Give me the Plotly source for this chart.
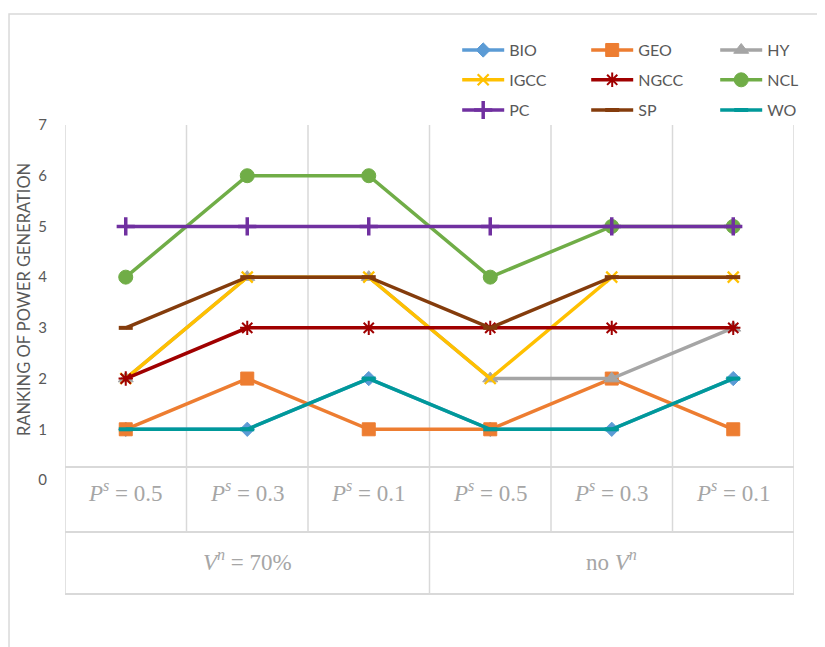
import plotly.graph_objects as go

# category positions and two-level axis labels
categories = [0, 1, 2, 3, 4, 5]
sub_labels = ["<i>P</i><sup><i>s</i></sup> = 0.5", "<i>P</i><sup><i>s</i></sup> = 0.3",
              "<i>P</i><sup><i>s</i></sup> = 0.1", "<i>P</i><sup><i>s</i></sup> = 0.5",
              "<i>P</i><sup><i>s</i></sup> = 0.3", "<i>P</i><sup><i>s</i></sup> = 0.1"]
group_labels = ["<i>V</i><sup><i>n</i></sup> = 70%", "no <i>V</i><sup><i>n</i></sup>"]
group_centers = [1, 4]
group_edges = [-0.5, 2.5, 5.5]

# ranking of each power generation technology
bio = [1, 1, 2, 1, 1, 2]
geo = [1, 2, 1, 1, 2, 1]
hy = [2, 4, 4, 2, 2, 3]
igcc = [2, 4, 4, 2, 4, 4]
ngcc = [2, 3, 3, 3, 3, 3]
ncl = [4, 6, 6, 4, 5, 5]
pc = [5, 5, 5, 5, 5, 5]
sp = [3, 4, 4, 3, 4, 4]
wo = [1, 1, 2, 1, 1, 2]

# name, values, colour, marker symbol, marker size, marker outline width, legend row
series = [
    ("BIO", bio, "#5B9BD5", "diamond", 11, 1, "legend"),
    ("GEO", geo, "#ED7D31", "square", 13, 1, "legend"),
    ("HY", hy, "#A5A5A5", "triangle-up", 13, 1, "legend"),
    ("IGCC", igcc, "#FFC000", "x-thin-open", 11, 2.2, "legend2"),
    ("NGCC", ngcc, "#A00000", "asterisk-open", 12, 2, "legend2"),
    ("NCL", ncl, "#70AD47", "circle", 14, 1, "legend2"),
    ("PC", pc, "#7030A0", "cross-thin-open", 13, 3.5, "legend3"),
    ("SP", sp, "#843C0C", "line-ew-open", 10, 4, "legend3"),
    ("WO", wo, "#00999A", "line-ew-open", 10, 4, "legend3"),
]

grid_col = "#D9D9D9"
text_col = "#595959"
label_col = "#A6A6A6"

fig = go.Figure()
for name, vals, col, sym, size, lw, leg in series:
    fig.add_trace(go.Scatter(
        x=categories, y=vals, name=name, mode="lines+markers",
        line=dict(color=col, width=3.5),
        marker=dict(symbol=sym, size=size, color=col, line=dict(color=col, width=lw)),
        legend=leg,
    ))

# vertical gridlines continuing into the label table
shapes = []
for b in [-0.5, 0.5, 1.5, 2.5, 3.5, 4.5, 5.5]:
    shapes.append(dict(type="line", xref="x", yref="paper", x0=b, x1=b, y0=1.0, y1=-0.1465,
                       line=dict(color=grid_col, width=1.5), layer="below"))
for b in group_edges:
    shapes.append(dict(type="line", xref="x", yref="paper", x0=b, x1=b, y0=-0.1465, y1=-0.3211,
                       line=dict(color=grid_col, width=1.5)))
for yy in [0.0366, -0.1465, -0.3211]:
    shapes.append(dict(type="line", xref="x", yref="paper", x0=-0.5, x1=5.5, y0=yy, y1=yy,
                       line=dict(color=grid_col, width=2)))
# outer chart frame
shapes.append(dict(type="rect", xref="paper", yref="paper", x0=-0.0768, x1=1.2, y0=-0.6, y1=1.3127,
                   line=dict(color=grid_col, width=1.5), layer="below"))

annotations = []
for c, lab in zip(categories, sub_labels):
    annotations.append(dict(x=c, y=-0.078, xref="x", yref="paper", text=lab, showarrow=False,
                            font=dict(family="Liberation Serif", size=23, color=label_col)))
for c, lab in zip(group_centers, group_labels):
    annotations.append(dict(x=c, y=-0.272, xref="x", yref="paper", text=lab, showarrow=False,
                            font=dict(family="Liberation Serif", size=23, color=label_col)))
annotations.append(dict(x=-0.0562, y=0.507, xref="paper", yref="paper", xanchor="center",
                        yanchor="middle", text="RANKING OF POWER GENERATION", textangle=-90,
                        showarrow=False, font=dict(family="Lato", size=16.5, color=text_col)))

leg_style = dict(orientation="h", xanchor="left", yanchor="middle", x=0.538,
                 entrywidth=72, itemwidth=42, bgcolor="rgba(0,0,0,0)",
                 font=dict(family="Lato", size=16, color=text_col))

# page body adds 8px offset, so margins are shifted up/left by 8
fig.update_layout(
    width=825, height=647,
    margin=dict(l=57, r=39, t=117, b=175, autoexpand=False),
    paper_bgcolor="white", plot_bgcolor="white",
    xaxis=dict(range=[-0.5, 5.5], showticklabels=False, showgrid=False, zeroline=False, showline=False),
    yaxis=dict(range=[0, 7], dtick=1, showgrid=False, zeroline=False, showline=False,
               ticks="outside", ticklen=14, tickcolor="rgba(0,0,0,0)",
               tickfont=dict(family="Lato", size=15, color=text_col)),
    legend=dict(leg_style, y=1.211),
    legend2=dict(leg_style, y=1.127),
    legend3=dict(leg_style, y=1.042),
    shapes=shapes,
    annotations=annotations,
)

fig.write_html("out.html")
